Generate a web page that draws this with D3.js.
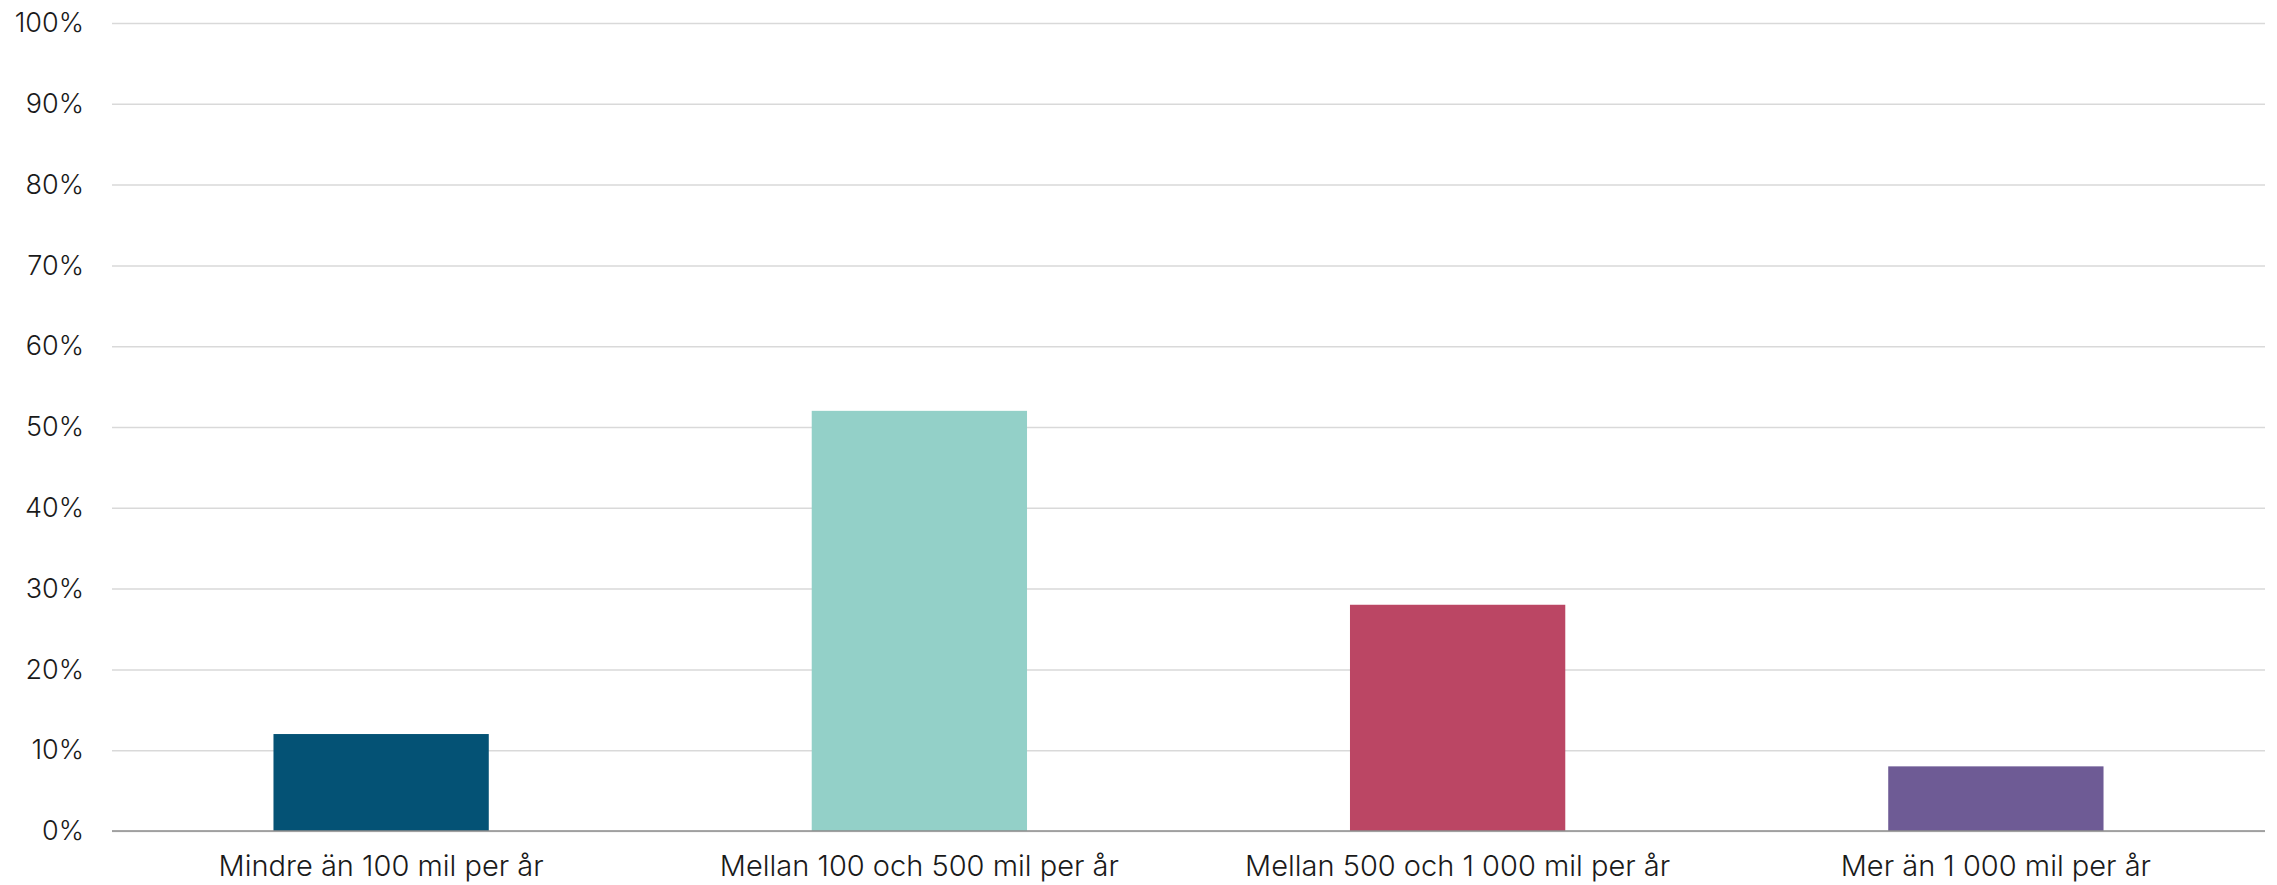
<!DOCTYPE html>
<html>
<head>
<meta charset="utf-8">
<script src="https://cdn.jsdelivr.net/npm/d3@7"></script>
<style>
  html, body { margin: 0; padding: 0; background: #ffffff; }
  svg { display: block; }
  text { font-family: Inter, "Noto Sans", sans-serif; font-weight: 300; fill: #1a1a1a; }
</style>
</head>
<body>
<svg id="chart" width="2277" height="885"></svg>
<script>
const categories = ["Mindre än 100 mil per år", "Mellan 100 och 500 mil per år", "Mellan 500 och 1 000 mil per år", "Mer än 1 000 mil per år"];
const values = [12, 52, 28, 8];
const colors = ["#045275", "#93d0c8", "#bb4664", "#6e5b95"];
const yTicks = [0, 10, 20, 30, 40, 50, 60, 70, 80, 90, 100];

const margin = { left: 112, right: 12, top: 23, bottom: 54 };
const W = 2277, H = 885;
const svg = d3.select("#chart");

const x = d3.scaleBand().domain(categories).range([margin.left, W - margin.right]).paddingInner(0.6).paddingOuter(0.3);
const y = d3.scaleLinear().domain([0, 100]).range([H - margin.bottom, margin.top]);

// gridlines
const grid = svg.append("g")
  .attr("transform", `translate(${margin.left},0)`)
  .call(d3.axisLeft(y).tickValues(yTicks).tickSize(-(W - margin.left - margin.right)).tickFormat(""));
grid.select(".domain").remove();
grid.selectAll(".tick line").attr("stroke", "#d9d9d9").attr("stroke-width", 1.5);

// y labels
const yAxis = svg.append("g")
  .attr("transform", `translate(${margin.left},0)`)
  .call(d3.axisLeft(y).tickValues(yTicks).tickSize(0).tickPadding(28).tickFormat(d => d + "%"));
yAxis.select(".domain").remove();
yAxis.selectAll("text").style("font-size", "27px").style("font-family", "Inter, sans-serif").style("font-weight", 300).attr("fill", "#1a1a1a");

// bars
svg.append("g").selectAll("rect")
  .data(values)
  .join("rect")
  .attr("x", (d, i) => x(categories[i]))
  .attr("width", x.bandwidth())
  .attr("y", d => y(d))
  .attr("height", d => y(0) - y(d))
  .attr("fill", (d, i) => colors[i]);

// x axis
const xAxis = svg.append("g")
  .attr("transform", `translate(0,${y(0)})`)
  .call(d3.axisBottom(x).tickSize(0).tickPadding(24));
xAxis.select(".domain").attr("stroke", "#8c8c8c").attr("stroke-width", 1.5)
  .attr("d", `M${margin.left},0H${W - margin.right}`);
xAxis.selectAll("text").style("font-size", "29px").style("font-family", "Inter, sans-serif").style("font-weight", 300).attr("fill", "#1a1a1a");
</script>
</body>
</html>
